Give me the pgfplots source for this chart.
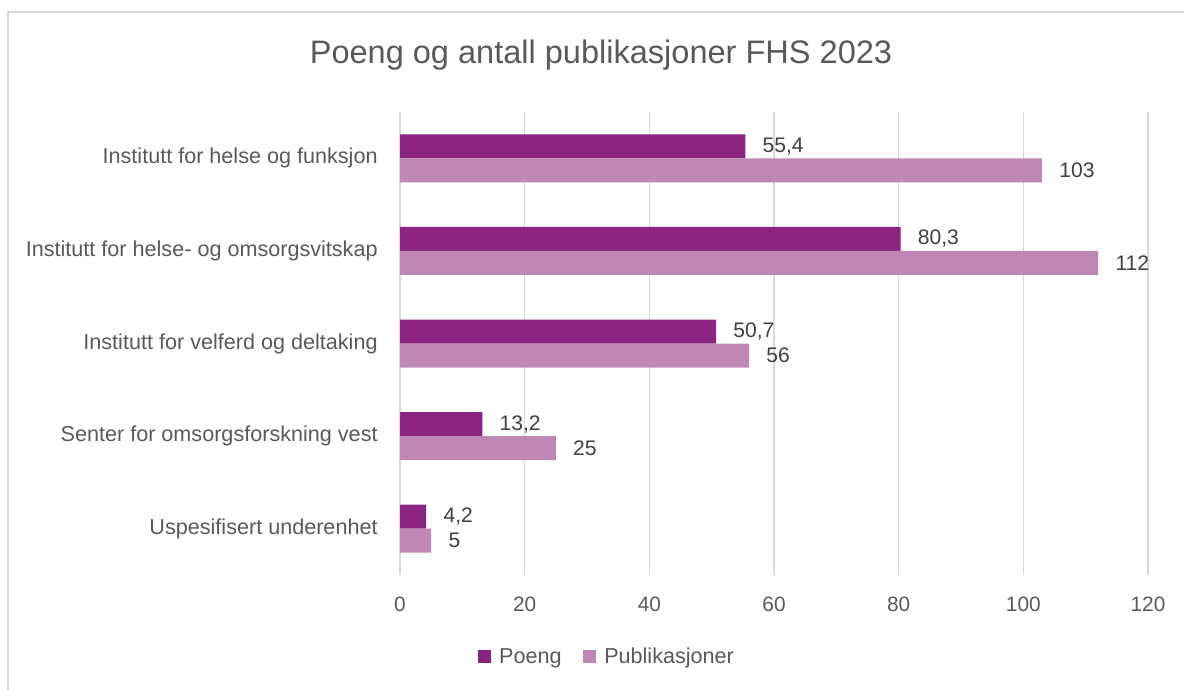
\documentclass[border=0pt]{standalone}
\usepackage{pgfplots}
\pgfplotsset{compat=1.18}
\usepackage{pgfplotstable}
\usepackage{fontspec}
\setmainfont{Liberation Sans}
\definecolor{poeng}{HTML}{8B2381}
\definecolor{pub}{HTML}{BE87B4}
\definecolor{txt}{HTML}{595959}
\definecolor{lab}{HTML}{404040}
\definecolor{gridc}{HTML}{D9D9D9}
\pgfplotstableread{
cat poeng plab pub qlab
0 55.4 55,4 103 103
1 80.3 80,3 112 112
2 50.7 50,7 56 56
3 13.2 13,2 25 25
4 4.2 4,2 5 5
}\data
\begin{document}
\begin{tikzpicture}[x=1pt,y=1pt]
\path[use as bounding box] (0,0) rectangle (888,516.75);
\draw[gridc, line width=1pt] (6,-20) -- (6,507.75) -- (900,507.75);
\node[txt, font=\fontsize{24.4}{28}\selectfont] at (450.75,475.5) {Poeng og antall publikasjoner FHS 2023};
\begin{axis}[
  at={(300pt,85.5pt)}, anchor=south west,
  scale only axis, width=561pt, height=347.25pt,
  xmin=0, xmax=120, ymin=-0.5, ymax=4.5,
  y dir=reverse,
  xtick={0,20,...,120},
  ytick={0,1,2,3,4},
  yticklabels={Institutt for helse og funksjon, Institutt for helse- og omsorgsvitskap, Institutt for velferd og deltaking, Senter for omsorgsforskning vest, Uspesifisert underenhet},
  axis line style={draw=none},
  major tick style={draw=none},
  xmajorgrids,
  major grid style={gridc, line width=0.9pt},
  /pgf/number format/assume math mode=true,
  ticklabel style={txt, font=\fontsize{15.6}{18}\selectfont},
  yticklabel style={font=\fontsize{16.2}{18}\selectfont, xshift=-9pt},
  xticklabel style={yshift=-13pt},
  xbar, bar width=18pt,
  point meta=explicit symbolic,
  nodes near coords,
  nodes near coords align={horizontal},
  nodes near coords style={lab, font=\fontsize{15.8}{18}\selectfont, anchor=west, xshift=9.5pt},
  legend columns=2,
  legend style={draw=none, at={(0.277,-0.177)}, anchor=center, font=\fontsize{16.2}{18}\selectfont, text=txt, /tikz/every even column/.append style={column sep=14pt}},
  legend image code/.code={\fill[#1] (0pt,-4.9pt) rectangle (9.75pt,4.9pt); \path (14pt,0pt);},
]
\addplot[draw=none, fill=poeng, bar shift=9pt] table[x=poeng, y=cat, meta=plab] {\data};
\addlegendentry{Poeng}
\addplot[draw=none, fill=pub, bar shift=-9pt] table[x=pub, y=cat, meta=qlab] {\data};
\addlegendentry{Publikasjoner}
\end{axis}
\end{tikzpicture}
\end{document}
